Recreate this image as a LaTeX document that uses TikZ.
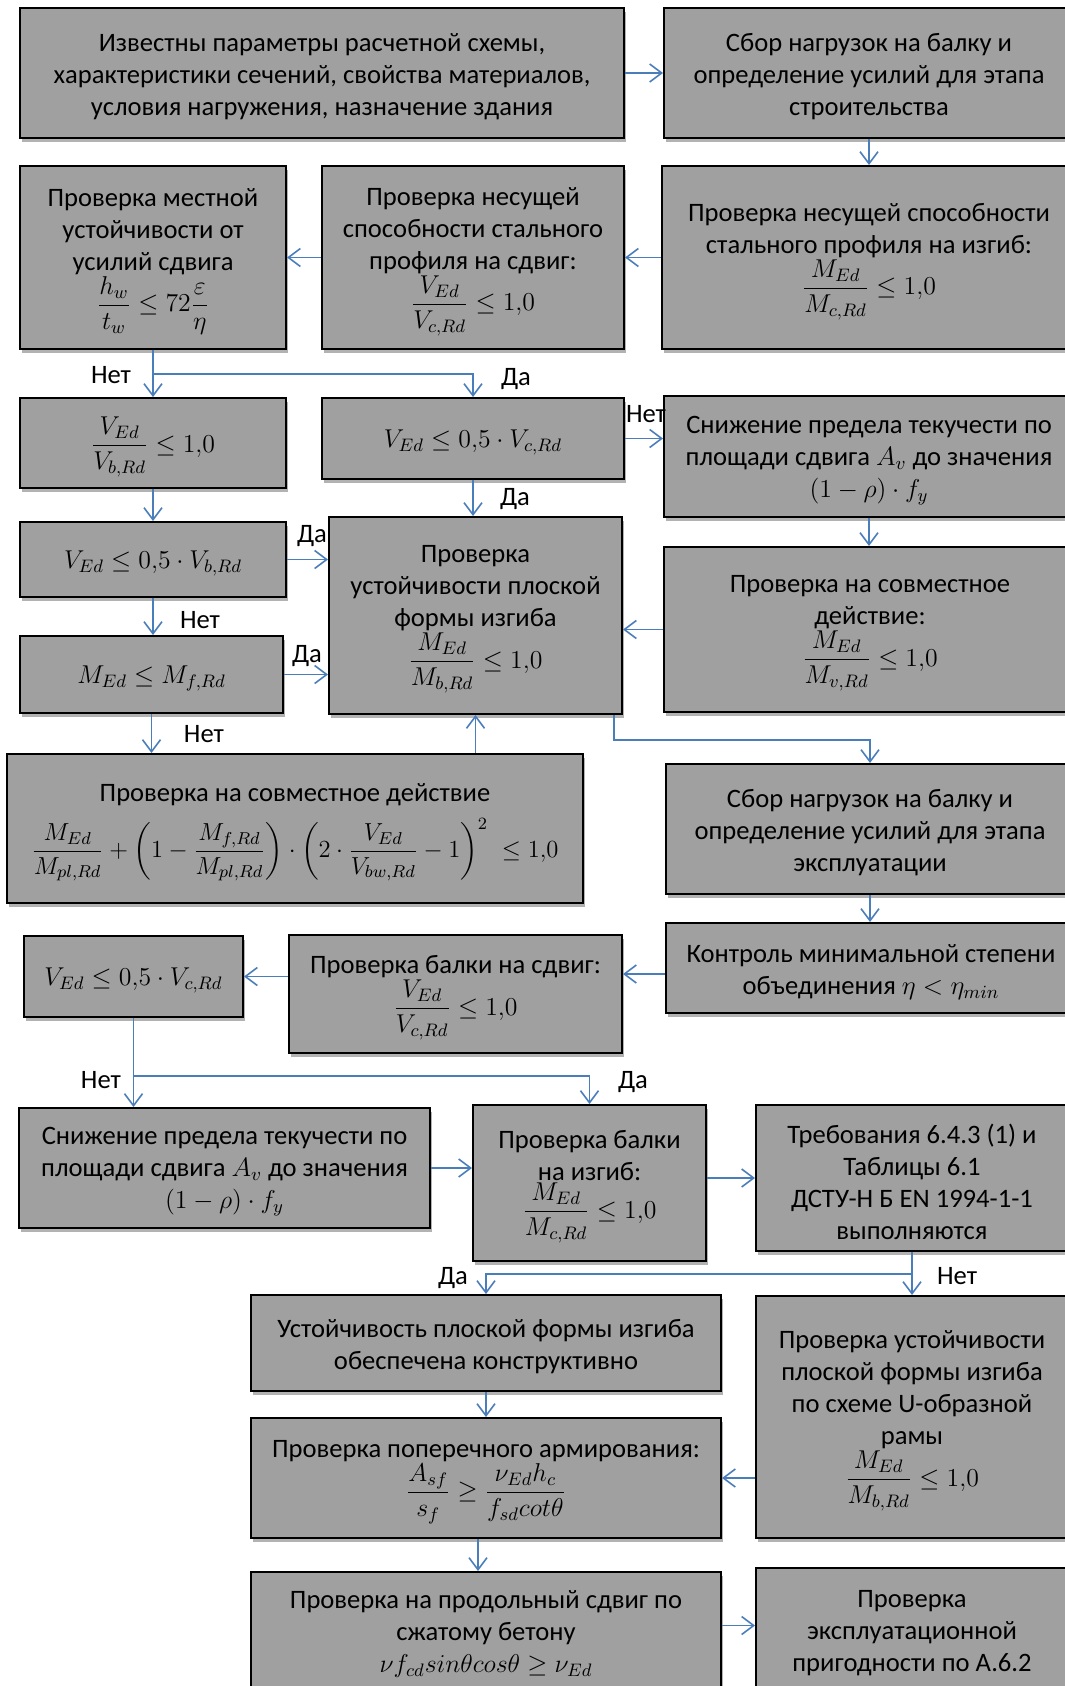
\RequirePackage{fix-cm}
\documentclass[tikz,border=0pt]{standalone}
\usepackage{amsmath}
\usepackage{fontspec}
\setmainfont{Carlito}
\usetikzlibrary{arrows.meta,shadows}

\definecolor{boxgray}{RGB}{160,160,160}
\definecolor{arrblue}{RGB}{74,126,187}
\newcommand{\boxfont}{\fontsize{13.3}{16}\selectfont}
% formulas in display style
\newcommand{\fml}[1]{{\fontsize{12.9}{16}\selectfont$\displaystyle #1$}}
% \bx{name}{x1}{y1}{x2}{y2}{text}: a grey box spanning the given pixel corners
\newcommand{\bx}[6]{%
  \pgfmathsetmacro{\bxw}{(#4-#2)*0.5}%
  \pgfmathsetmacro{\bxh}{(#5-#3)*0.5}%
  \pgfmathsetmacro{\bxcx}{(#2+#4)/2}%
  \pgfmathsetmacro{\bxcy}{(#3+#5)/2}%
  \node[box, minimum width=\bxw pt, minimum height=\bxh pt,
        label={[boxtext]center:{#6}}] (#1) at (\bxcx,\bxcy) {};}

\begin{document}
\begin{tikzpicture}[x=0.5pt,y=-0.5pt,
  box/.style={draw=black, line width=1pt, fill=boxgray, inner sep=0pt,
    anchor=center,
    drop shadow={shadow xshift=1pt, shadow yshift=-2pt, opacity=0.3, fill=black}},
  boxtext/.style={align=center, font=\boxfont, inner sep=0pt, yshift=-2pt},
  arr/.style={draw=arrblue, line width=0.8pt, line join=miter,
    -{Straight Barb[length=6pt, width=9pt]}},
  lbl/.style={font=\boxfont, inner sep=0pt}]

\useasboundingbox (0,0) rectangle (1065,1686);
\clip (0,0) rectangle (1065,1686);

% ---------- construction stage ----------
\bx{A}{20}{8}{624}{138}
  {Известны параметры расчетной схемы,\\характеристики сечений, свойства материалов,\\условия нагружения, назначение здания}
\bx{B}{664}{8}{1074}{138}
  {Сбор нагрузок на балку и\\определение усилий для этапа\\строительства}

\bx{C}{20}{166}{286}{349}
  {Проверка местной\\устойчивости от\\усилий сдвига\\\fml{\frac{h_w}{t_w}\leq 72\frac{\varepsilon}{\eta}}}
\bx{D}{322}{166}{624}{349}
  {Проверка несущей\\способности стального\\профиля на сдвиг:\\\fml{\frac{V_{Ed}}{V_{c,Rd}}\leq 1{,}0}}
\bx{E}{662}{166}{1076}{349}
  {Проверка несущей способности\\стального профиля на изгиб:\\\fml{\frac{M_{Ed}}{M_{c,Rd}}\leq 1{,}0}}

\bx{F}{20}{398}{286}{488}
  {\fml{\frac{V_{Ed}}{V_{b,Rd}}\leq 1{,}0}}
\bx{G}{322}{398}{624}{479}
  {\fml{V_{Ed}\leq 0{,}5\cdot V_{c,Rd}}}
\bx{H}{664}{396}{1074}{517}
  {Снижение предела текучести по\\площади сдвига $A_v$ до значения\\\fml{(1-\rho)\cdot f_y}}

\bx{J}{20}{522}{286}{597}
  {\fml{V_{Ed}\leq 0{,}5\cdot V_{b,Rd}}}
\bx{I}{329}{517}{622}{714}
  {Проверка\\устойчивости плоской\\формы изгиба\\\fml{\frac{M_{Ed}}{M_{b,Rd}}\leq 1{,}0}}
\bx{L}{664}{547}{1076}{712}
  {Проверка на совместное\\действие:\\\fml{\frac{M_{Ed}}{M_{v,Rd}}\leq 1{,}0}}
\bx{K}{20}{636}{283}{713}
  {\fml{M_{Ed}\leq M_{f,Rd}}}

\bx{M}{7}{754}{583}{903}
  {Проверка на совместное действие\\[5pt]
   {\fontsize{12.3}{16}\selectfont$\dfrac{M_{Ed}}{M_{pl,Rd}}+\left(1-\dfrac{M_{f,Rd}}{M_{pl,Rd}}\right)\cdot\left(2\cdot\dfrac{V_{Ed}}{V_{bw,Rd}}-1\right)^{2}\;\leq 1{,}0$}}

% ---------- service stage ----------
\bx{N}{666}{764}{1074}{894}
  {Сбор нагрузок на балку и\\определение усилий для этапа\\эксплуатации}
\bx{O}{666}{923}{1076}{1013}
  {Контроль минимальной степени\\объединения $\eta<\eta_{min}$}
\bx{P}{289}{935}{622}{1053}
  {Проверка балки на сдвиг:\\\fml{\frac{V_{Ed}}{V_{c,Rd}}\leq 1{,}0}}
\bx{Q}{24}{936}{243}{1017}
  {\fml{V_{Ed}\leq 0{,}5\cdot V_{c,Rd}}}

\bx{R}{19}{1108}{430}{1228}
  {Снижение предела текучести по\\площади сдвига $A_v$ до значения\\\fml{(1-\rho)\cdot f_y}}
\bx{S}{473}{1105}{706}{1261}
  {Проверка балки\\на изгиб:\\\fml{\frac{M_{Ed}}{M_{c,Rd}}\leq 1{,}0}}
\bx{T}{756}{1105}{1068}{1251}
  {Требования 6.4.3 (1) и\\Таблицы 6.1\\ДСТУ-Н Б EN 1994-1-1\\выполняются}

\bx{U}{251}{1295}{721}{1391}
  {Устойчивость плоской формы изгиба\\обеспечена конструктивно}
\bx{V}{756}{1296}{1068}{1538}
  {Проверка устойчивости\\плоской формы изгиба\\по схеме U-образной\\рамы\\\fml{\frac{M_{Ed}}{M_{b,Rd}}\leq 1{,}0}}
\bx{W}{251}{1418}{721}{1538}
  {Проверка поперечного армирования:\\\fml{\frac{A_{sf}}{s_f}\geq\frac{\nu_{Ed}h_c}{f_{sd}cot\theta}}}

\bx{X}{251}{1572}{721}{1689}
  {Проверка на продольный сдвиг по\\сжатому бетону\\\fml{\nu f_{cd}sin\theta cos\theta\geq\nu_{Ed}}}
\bx{Y}{756}{1568}{1068}{1690}
  {Проверка\\эксплуатационной\\пригодности по А.6.2}

% ---------- connectors ----------
\draw[arr] (A.east) -- (A.east -| B.west);
\draw[arr] (B.south) -- (B.south |- E.north);
\draw[arr] (E.west) -- (E.west -| D.east);
\draw[arr] (D.west) -- (D.west -| C.east);

\draw[arr] (C.south) -- (C.south |- F.north);
\draw[arr] (C.south) -- ++(0,24) -| (G.north);
\draw[arr] (G.east) -- (G.east -| H.west);
\draw[arr] (G.south) -- (G.south |- I.north);
\draw[arr] (H.south) -- (H.south |- L.north);

\draw[arr] (F.south) -- (F.south |- J.north);
\draw[arr] (J.east) -- (J.east -| I.west);
\draw[arr] (J.south) -- (J.south |- K.north);
\draw[arr] (K.east) -- (K.east -| I.west);
\draw[arr] (L.west) -- (L.west -| I.east);
\draw[arr] (K.south) -- (K.south |- M.north);
\draw[arr] (M.north -| I.south) -- (I.south);
\draw[arr] ([xshift=-4.5pt]I.south east) -- ++(0,25) -| (N.north);

\draw[arr] (N.south) -- (N.south |- O.north);
\draw[arr] ([yshift=-3pt]O.west) -- ([yshift=-3pt]O.west -| P.east);
\draw[arr] (P.west |- Q.east) -- (Q.east);
\draw[arr] (Q.south) -- (Q.south |- R.north);
\draw[arr] (Q.south) -- ++(0,58) -| (S.north);
\draw[arr] (R.east) -- (R.east -| S.west);
\draw[arr] (S.east |- T.west) -- (T.west);

\draw[arr] (T.south) -- (T.south |- V.north);
\draw[arr] (T.south) -- ++(0,22) -| (U.north);
\draw[arr] (U.south) -- (U.south |- W.north);
\draw[arr] (V.west |- W.east) -- (W.east);
\draw[arr] ([xshift=-4pt]W.south) -- ([xshift=-4pt]W.south |- X.north);
\draw[arr] ([yshift=2.5pt]X.east) -- ([yshift=2.5pt]X.east -| Y.west);

% ---------- branch labels ----------
\node[lbl] (l1) at (111,375) {Нет};
\node[lbl] (l2) at (516,379) {Да};
\node[lbl] (l3) at (646,414) {Нет};
\node[lbl] (l4) at (515,499) {Да};
\node[lbl] (l5) at (312,536) {Да};
\node[lbl] (l6) at (200,620) {Нет};
\node[lbl] (l7) at (307,656) {Да};
\node[lbl] (l8) at (204,734) {Нет};
\node[lbl] (l9) at (101,1080) {Нет};
\node[lbl] (l10) at (633,1082) {Да};
\node[lbl] (l11) at (453,1278) {Да};
\node[lbl] (l12) at (957,1276) {Нет};
\end{tikzpicture}
\end{document}
